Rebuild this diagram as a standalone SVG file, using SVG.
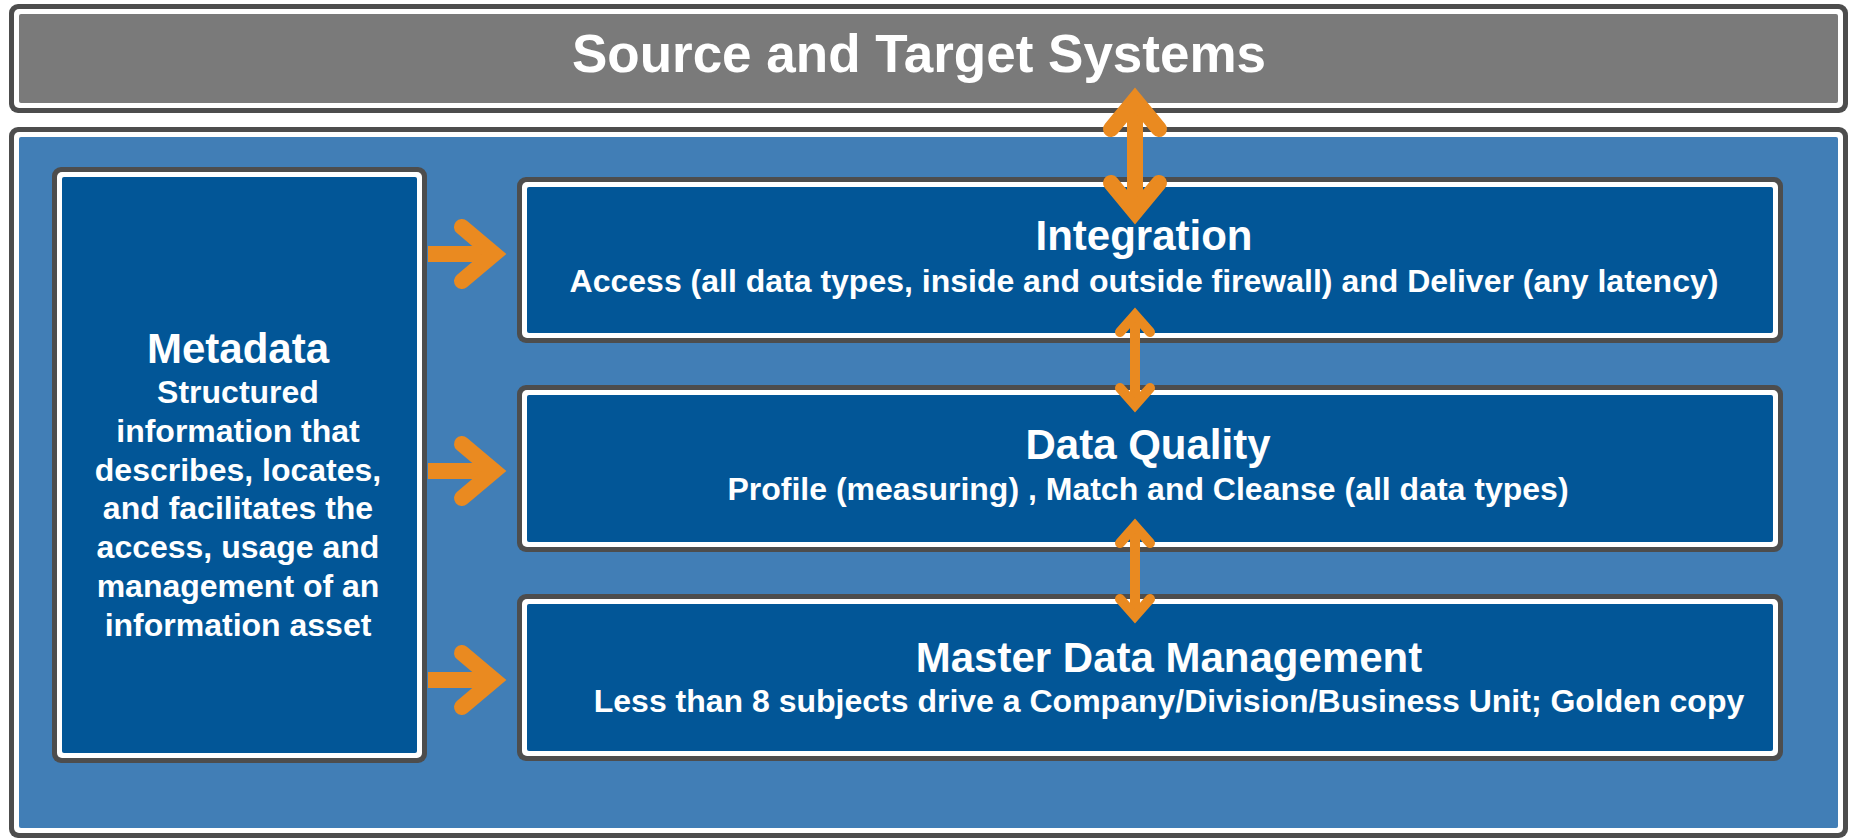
<svg xmlns="http://www.w3.org/2000/svg" width="1851" height="838" viewBox="0 0 1851 838">
<style>
.rim{fill:#4d4d4d}
.ring{fill:#ffffff}
.gray{fill:#7a7a7a}
.bg{fill:#417eb6}
.node{fill:#025697}
text{font-family:"Liberation Sans",Arial,Helvetica,sans-serif;font-weight:bold;fill:#ffffff;text-anchor:middle}
.h0{font-size:53px}
.h1{font-size:42px}
.t1{font-size:32px}
.arw{fill:none;stroke:#ea8a20;stroke-linecap:round;stroke-linejoin:miter;stroke-miterlimit:10}
.shaft{fill:none;stroke:#ea8a20;stroke-linecap:butt}
.w16{stroke-width:16}
.w10{stroke-width:10}
</style>
<rect width="1851" height="838" fill="#ffffff"/>
<g id="source-target">
<rect class="rim" x="9" y="4" width="1839" height="109" rx="9"/>
<rect class="ring" x="14" y="9" width="1829" height="99" rx="5"/>
<rect class="gray" x="19" y="14" width="1819" height="89" rx="2"/>
<text class="h0" x="919" y="72">Source and Target Systems</text>
</g>
<g id="container">
<rect class="rim" x="9" y="127" width="1839" height="711" rx="9"/>
<rect class="ring" x="14" y="132" width="1829" height="701" rx="5"/>
<rect class="bg" x="19" y="137" width="1819" height="691" rx="2"/>
</g>
<g id="metadata">
<rect class="rim" x="52" y="167" width="375" height="596" rx="9"/>
<rect class="ring" x="57" y="172" width="365" height="586" rx="5"/>
<rect class="node" x="62" y="177" width="355" height="576" rx="2"/>
<text class="h1" x="238" y="363">Metadata</text>
<text class="t1" x="238" y="403">Structured</text>
<text class="t1" x="238" y="442">information that</text>
<text class="t1" x="238" y="481">describes, locates,</text>
<text class="t1" x="238" y="519">and facilitates the</text>
<text class="t1" x="238" y="558">access, usage and</text>
<text class="t1" x="238" y="597">management of an</text>
<text class="t1" x="238" y="636">information asset</text>
</g>
<g id="integration">
<rect class="rim" x="517" y="177" width="1266" height="166" rx="9"/>
<rect class="ring" x="522" y="182" width="1256" height="156" rx="5"/>
<rect class="node" x="527" y="187" width="1246" height="146" rx="2"/>
<text class="h1" x="1144" y="250">Integration</text>
<text class="t1" x="1144" y="292">Access (all data types, inside and outside firewall) and Deliver (any latency)</text>
</g>
<g id="data-quality">
<rect class="rim" x="517" y="385" width="1266" height="167" rx="9"/>
<rect class="ring" x="522" y="390" width="1256" height="157" rx="5"/>
<rect class="node" x="527" y="395" width="1246" height="147" rx="2"/>
<text class="h1" x="1148" y="459">Data Quality</text>
<text class="t1" x="1148" y="500">Profile (measuring) , Match and Cleanse (all data types)</text>
</g>
<g id="mdm">
<rect class="rim" x="517" y="594" width="1266" height="167" rx="9"/>
<rect class="ring" x="522" y="599" width="1256" height="157" rx="5"/>
<rect class="node" x="527" y="604" width="1246" height="147" rx="2"/>
<text class="h1" x="1169" y="672">Master Data Management</text>
<text class="t1" x="1169" y="712">Less than 8 subjects drive a Company/Division/Business Unit; Golden copy</text>
</g>
<g id="connectors">
<path class="shaft w16" d="M428 254H494"/>
<path class="arw w16" d="M462 227L494 254L462 281"/>
<path class="shaft w16" d="M428 471H494"/>
<path class="arw w16" d="M462 444L494 471L462 498"/>
<path class="shaft w16" d="M428 680H494"/>
<path class="arw w16" d="M462 653L494 680L462 707"/>
<path class="shaft w16" d="M1135 100V212"/>
<path class="arw w16" d="M1111 129L1135 100L1159 129M1111 183L1135 212L1159 183"/>
<path class="shaft w10" d="M1135 315V405"/>
<path class="arw w10" d="M1120 332L1135 315L1150 332M1120 388L1135 405L1150 388"/>
<path class="shaft w10" d="M1135 526V616"/>
<path class="arw w10" d="M1120 543L1135 526L1150 543M1120 599L1135 616L1150 599"/>
</g>
</svg>
